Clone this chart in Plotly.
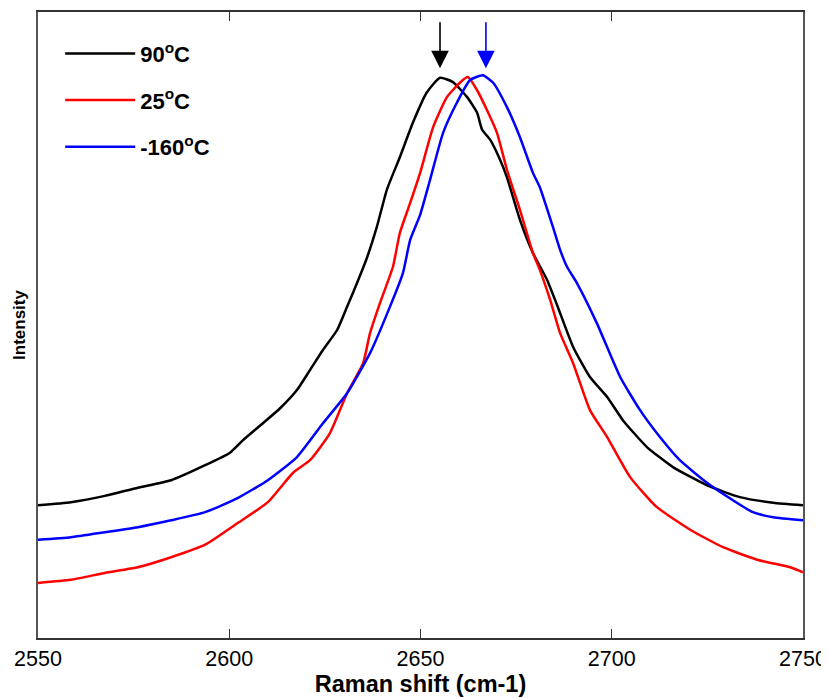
import plotly.graph_objects as go

# Raman shift (cm-1) and intensity (arbitrary units)
x_90 = [2550.0, 2558.6, 2567.5, 2576.1, 2584.8, 2593.7, 2600.2, 2603.6, 2608.8, 2613.3,
        2617.7, 2621.1, 2624.5, 2628.2, 2630.8, 2633.4, 2636.1, 2638.6, 2641.2, 2644.6,
        2648.0, 2651.6, 2655.1, 2658.5, 2662.2, 2664.8, 2666.1, 2668.2, 2670.8, 2672.6,
        2676.0, 2679.4, 2683.1, 2685.7, 2689.9, 2694.3, 2698.8, 2702.9, 2709.2, 2716.0,
        2724.9, 2733.5, 2742.2, 2750.0]
y_90 = [21.2, 21.7, 22.7, 24.0, 25.2, 27.6, 29.6, 31.6, 34.3, 36.7,
        39.6, 42.8, 46.0, 49.2, 52.9, 56.7, 60.9, 65.7, 71.6, 76.8,
        82.3, 87.1, 89.5, 88.8, 86.4, 83.9, 81.2, 79.6, 76.4, 73.6,
        66.8, 61.5, 57.2, 53.2, 46.5, 41.7, 38.5, 34.8, 30.5, 27.3,
        24.4, 22.5, 21.6, 21.2]

x_25 = [2550.0, 2558.6, 2567.5, 2576.1, 2584.8, 2593.7, 2602.3, 2610.1, 2616.7, 2621.1,
        2626.3, 2630.8, 2635.0, 2636.8, 2639.4, 2642.8, 2644.6, 2647.3, 2649.9, 2653.3,
        2656.9, 2660.3, 2662.4, 2664.8, 2667.4, 2670.0, 2672.6, 2676.0, 2679.4, 2681.2,
        2683.9, 2686.5, 2689.9, 2694.3, 2698.8, 2704.8, 2711.8, 2720.5, 2729.1, 2738.0,
        2746.6, 2750.0]
y_25 = [8.8, 9.3, 10.4, 11.3, 12.9, 14.9, 18.4, 21.7, 26.4, 28.4,
        32.7, 39.1, 43.9, 48.7, 53.5, 59.3, 64.7, 69.5, 74.3, 81.6,
        86.4, 88.7, 89.6, 87.5, 84.3, 80.7, 74.8, 68.4, 61.5, 58.8,
        54.0, 48.7, 43.9, 36.4, 32.1, 25.7, 20.9, 17.3, 14.5, 12.5,
        11.3, 10.5]

x_m160 = [2550.0, 2558.6, 2567.5, 2576.1, 2584.8, 2593.7, 2602.3, 2610.1, 2617.7, 2624.5,
          2630.8, 2636.8, 2642.0, 2645.4, 2647.3, 2649.9, 2652.5, 2655.9, 2659.5, 2662.9,
          2666.3, 2669.0, 2672.6, 2676.0, 2679.4, 2681.2, 2684.6, 2686.5, 2688.3, 2690.9,
          2696.1, 2702.2, 2707.4, 2712.6, 2717.8, 2724.9, 2731.7, 2736.9, 2742.2, 2750.0]
y_m160 = [15.7, 16.1, 16.9, 17.7, 18.8, 20.1, 22.4, 25.2, 28.9, 34.3,
          39.1, 45.5, 52.9, 58.3, 63.6, 67.6, 73.2, 80.7, 85.5, 89.1,
          89.9, 88.7, 84.8, 80.0, 74.3, 72.0, 65.7, 62.0, 59.3, 56.7,
          50.3, 41.7, 36.4, 32.1, 28.4, 24.8, 22.0, 20.1, 19.3, 18.8]

labels = ["90<sup>o</sup>C", "25<sup>o</sup>C", "-160<sup>o</sup>C"]
colors = ["#000000", "#ff0000", "#0000ff"]

# peak markers (arrows)
peak_x = [2655.1, 2667.1]
peak_colors = ["#000000", "#0000ff"]
arrow_tip = 91.0
arrow_tail = 98.6

x_ticks = [2550, 2600, 2650, 2700, 2750]

FONT = "Liberation Sans, Arial, sans-serif"

fig = go.Figure()
for i, (xs, ys) in enumerate([(x_90, y_90), (x_25, y_25), (x_m160, y_m160)]):
    fig.add_trace(go.Scatter(x=xs, y=ys, mode="lines", name=labels[i],
                             legendgroup=f"g{i}",
                             line=dict(color=colors[i], width=2.5, shape="spline",
                                       smoothing=0.5)))

for px, pc in zip(peak_x, peak_colors):
    fig.add_annotation(x=px, y=arrow_tip, ax=px, ay=arrow_tail, xref="x", yref="y",
                       axref="x", ayref="y", showarrow=True, arrowhead=2,
                       arrowsize=2.2, arrowwidth=1.6, arrowcolor=pc, text="")

fig.update_layout(
    width=829, height=698,
    margin=dict(l=30, r=34, t=4, b=68),
    plot_bgcolor="white", paper_bgcolor="white",
    font=dict(family=FONT, color="black"),
    showlegend=True,
    legend=dict(x=0.029, y=0.967, xanchor="left", yanchor="top",
                bgcolor="rgba(0,0,0,0)", tracegroupgap=15, itemwidth=70,
                font=dict(size=22, family=FONT, weight="bold")),
    xaxis=dict(range=[2550, 2750], tickvals=x_ticks, ticks="inside", ticklen=9,
               tickwidth=1.3, tickcolor="#333", showline=True, linecolor="#333",
               linewidth=1.5, mirror="ticks", showgrid=False, zeroline=False,
               automargin=False,
               tickfont=dict(size=21.5, family=FONT),
               title=dict(text="<b>Raman shift (cm-1)</b>", font=dict(size=23.5, family=FONT),
                          standoff=3)),
    yaxis=dict(range=[0, 100], showticklabels=False, ticks="", showline=True,
               linecolor="#555", linewidth=1.5, mirror=True, showgrid=False,
               zeroline=False, automargin=False,
               title=dict(text="<b>Intensity</b>", font=dict(size=17, family=FONT),
                          standoff=6)),
)

fig.write_html("out.html")
